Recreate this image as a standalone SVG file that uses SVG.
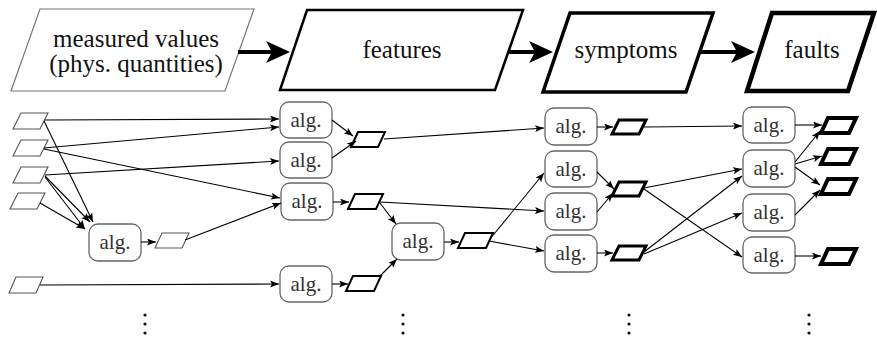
<svg xmlns="http://www.w3.org/2000/svg" width="877" height="338" viewBox="0 0 877 338">
  <defs>
    <style>
      .lbl { font-size: 25px; fill: #111; text-anchor: middle; }
      .alg rect { fill: #fff; stroke: #666; stroke-width: 1.3; }
      .alg text { font-size: 21px; fill: #333; text-anchor: middle; }
      .data { fill: #fff; stroke-linejoin: miter; }
      .d0 { stroke: #555; stroke-width: 1.1; }
      .d1 { stroke: #000; stroke-width: 2; }
      .d2 { stroke: #000; stroke-width: 3; }
      .d3 { stroke: #000; stroke-width: 4; }
      .edge { fill: none; stroke: #000; stroke-width: 1.1; marker-end: url(#tip); }
      .flow { fill: none; stroke: #000; stroke-width: 4; marker-end: url(#bigtip); }
      .dot { fill: #111; }
    </style>
    <marker id="tip" markerUnits="userSpaceOnUse" markerWidth="10" markerHeight="8" refX="9" refY="3.5" orient="auto">
      <path d="M0,0 L9,3.5 L0,7 L2,3.5 z" fill="#000"/>
    </marker>
    <marker id="bigtip" markerUnits="userSpaceOnUse" markerWidth="26" markerHeight="24" refX="6" refY="11" orient="auto">
      <path d="M0,0 L24,11 L0,22 L6,11 z" fill="#000"/>
    </marker>
  </defs>

  <g font-family="'Liberation Serif', 'DejaVu Serif', serif">
  <!-- header chain -->
  <g id="hdr-measured">
    <path class="data" d="M40,9 L254,9 L225,91 L11,91 z" stroke="#777" stroke-width="1.2"/>
    <text class="lbl" x="136" y="47">measured values</text>
    <text class="lbl" x="136" y="72">(phys. quantities)</text>
  </g>
  <g id="hdr-features">
    <path class="data" d="M307,10 L523,10 L495,90 L280,90 z" stroke="#000" stroke-width="2.5"/>
    <text class="lbl" x="402" y="58">features</text>
  </g>
  <g id="hdr-symptoms">
    <path class="data" d="M570,13 L713,13 L686,92 L543,92 z" stroke="#000" stroke-width="3.5"/>
    <text class="lbl" x="626" y="58">symptoms</text>
  </g>
  <g id="hdr-faults">
    <path class="data" d="M772,13 L874,13 L848,91 L747,91 z" stroke="#000" stroke-width="4.5"/>
    <text class="lbl" x="812" y="58">faults</text>
  </g>

  <!-- input measurements -->
  <g id="in1"><path class="data d0" d="M21,113 h27 l-8,16 h-27 z"/></g>
  <g id="in2"><path class="data d0" d="M21,140 h27 l-8,16 h-27 z"/></g>
  <g id="in3"><path class="data d0" d="M21,167 h27 l-8,16 h-27 z"/></g>
  <g id="in4"><path class="data d0" d="M18,193 h27 l-8,16 h-27 z"/></g>
  <g id="in5"><path class="data d0" d="M16,277 h27 l-7,16 h-27 z"/></g>

  <!-- intermediate values -->
  <g id="feat0"><path class="data d0" d="M162,233 h27 l-7,15 h-27 z"/></g>
  <g id="feat1"><path class="data d1" d="M358,132 h27 l-7,15 h-27 z"/></g>
  <g id="feat2"><path class="data d1" d="M355,194 h28 l-7,15 h-28 z"/></g>
  <g id="feat3"><path class="data d1" d="M353,276 h28 l-7,15 h-28 z"/></g>
  <g id="feat4"><path class="data d1" d="M465,233 h28 l-7,15 h-28 z"/></g>

  <!-- symptoms -->
  <g id="sym1"><path class="data d2" d="M619,120 h27 l-7,14 h-27 z"/></g>
  <g id="sym2"><path class="data d2" d="M619,182 h27 l-7,14 h-27 z"/></g>
  <g id="sym3"><path class="data d2" d="M619,246 h27 l-7,14 h-27 z"/></g>

  <!-- faults -->
  <g id="fault1"><path class="data d3" d="M828,118 h28 l-7,15 h-28 z"/></g>
  <g id="fault2"><path class="data d3" d="M828,149 h28 l-7,15 h-28 z"/></g>
  <g id="fault3"><path class="data d3" d="M828,179 h28 l-7,15 h-28 z"/></g>
  <g id="fault4"><path class="data d3" d="M828,249 h28 l-7,15 h-28 z"/></g>

  <!-- algorithm blocks -->
  <g id="alg0" class="alg"><rect x="89" y="224" width="52" height="37" rx="9"/><text x="115" y="249">alg.</text></g>
  <g id="alg1a" class="alg"><rect x="280" y="102" width="52" height="36" rx="9"/><text x="306" y="127">alg.</text></g>
  <g id="alg1b" class="alg"><rect x="280" y="142" width="52" height="36" rx="9"/><text x="306" y="167">alg.</text></g>
  <g id="alg1c" class="alg"><rect x="281" y="183" width="52" height="37" rx="9"/><text x="307" y="208">alg.</text></g>
  <g id="alg1d" class="alg"><rect x="280" y="266" width="52" height="36" rx="9"/><text x="306" y="291">alg.</text></g>
  <g id="alg2" class="alg"><rect x="392" y="223" width="52" height="37" rx="9"/><text x="418" y="248">alg.</text></g>
  <g id="alg3a" class="alg"><rect x="545" y="108" width="52" height="37" rx="9"/><text x="571" y="133">alg.</text></g>
  <g id="alg3b" class="alg"><rect x="545" y="151" width="52" height="36" rx="9"/><text x="571" y="176">alg.</text></g>
  <g id="alg3c" class="alg"><rect x="545" y="193" width="52" height="37" rx="9"/><text x="571" y="218">alg.</text></g>
  <g id="alg3d" class="alg"><rect x="545" y="235" width="52" height="37" rx="9"/><text x="571" y="260">alg.</text></g>
  <g id="alg4a" class="alg"><rect x="743" y="107" width="52" height="36" rx="9"/><text x="769" y="132">alg.</text></g>
  <g id="alg4b" class="alg"><rect x="743" y="150" width="52" height="37" rx="9"/><text x="769" y="175">alg.</text></g>
  <g id="alg4c" class="alg"><rect x="743" y="194" width="52" height="37" rx="9"/><text x="769" y="219">alg.</text></g>
  <g id="alg4d" class="alg"><rect x="743" y="237" width="52" height="36" rx="9"/><text x="769" y="262">alg.</text></g>
  </g>

  <!-- continuation marks -->
  <g id="more">
    <circle class="dot" cx="145" cy="315" r="1.6"/><circle class="dot" cx="145" cy="324" r="1.6"/><circle class="dot" cx="145" cy="333" r="1.6"/>
    <circle class="dot" cx="403" cy="315" r="1.6"/><circle class="dot" cx="403" cy="324" r="1.6"/><circle class="dot" cx="403" cy="333" r="1.6"/>
    <circle class="dot" cx="629" cy="315" r="1.6"/><circle class="dot" cx="629" cy="324" r="1.6"/><circle class="dot" cx="629" cy="333" r="1.6"/>
    <circle class="dot" cx="809" cy="315" r="1.6"/><circle class="dot" cx="809" cy="324" r="1.6"/><circle class="dot" cx="809" cy="333" r="1.6"/>
  </g>

  <!-- connectors -->
  <g id="connectors">
    <path class="flow" d="M238,52 L272,52"/>
    <path class="flow" d="M509,52 L535,52"/>
    <path class="flow" d="M699,52 L737,52"/>

    <path class="edge" d="M45,120 L279,119"/>
    <path class="edge" d="M44,148 L279,127"/>
    <path class="edge" d="M44,149 L280,198"/>
    <path class="edge" d="M45,175 L279,161"/>
    <path class="edge" d="M44,121 L93,222"/>
    <path class="edge" d="M45,176 L90,222"/>
    <path class="edge" d="M45,177 L85,229"/>
    <path class="edge" d="M40,203 L85,229"/>
    <path class="edge" d="M40,285 L279,284"/>

    <path class="edge" d="M141,242 L156,242"/>
    <path class="edge" d="M185,240 L281,203"/>
    <path class="edge" d="M332,120 L353,136"/>
    <path class="edge" d="M332,158 L356,141"/>
    <path class="edge" d="M333,202 L349,202"/>
    <path class="edge" d="M332,284 L348,284"/>

    <path class="edge" d="M384,139 L544,128"/>
    <path class="edge" d="M380,203 L396,224"/>
    <path class="edge" d="M380,202 L544,211"/>
    <path class="edge" d="M379,277 L397,259"/>
    <path class="edge" d="M444,242 L459,242"/>
    <path class="edge" d="M490,239 L544,173"/>
    <path class="edge" d="M489,241 L544,251"/>

    <path class="edge" d="M597,127 L613,127"/>
    <path class="edge" d="M597,172 L614,189"/>
    <path class="edge" d="M597,212 L613,193"/>
    <path class="edge" d="M597,253 L613,253"/>

    <path class="edge" d="M644,127 L742,126"/>
    <path class="edge" d="M644,188 L742,169"/>
    <path class="edge" d="M644,189 L742,257"/>
    <path class="edge" d="M644,252 L742,176"/>
    <path class="edge" d="M644,254 L742,213"/>

    <path class="edge" d="M795,125 L822,125"/>
    <path class="edge" d="M795,162 L820,131"/>
    <path class="edge" d="M795,164 L822,156"/>
    <path class="edge" d="M795,167 L820,185"/>
    <path class="edge" d="M795,215 L820,190"/>
    <path class="edge" d="M795,256 L821,256"/>
  </g>
</svg>
